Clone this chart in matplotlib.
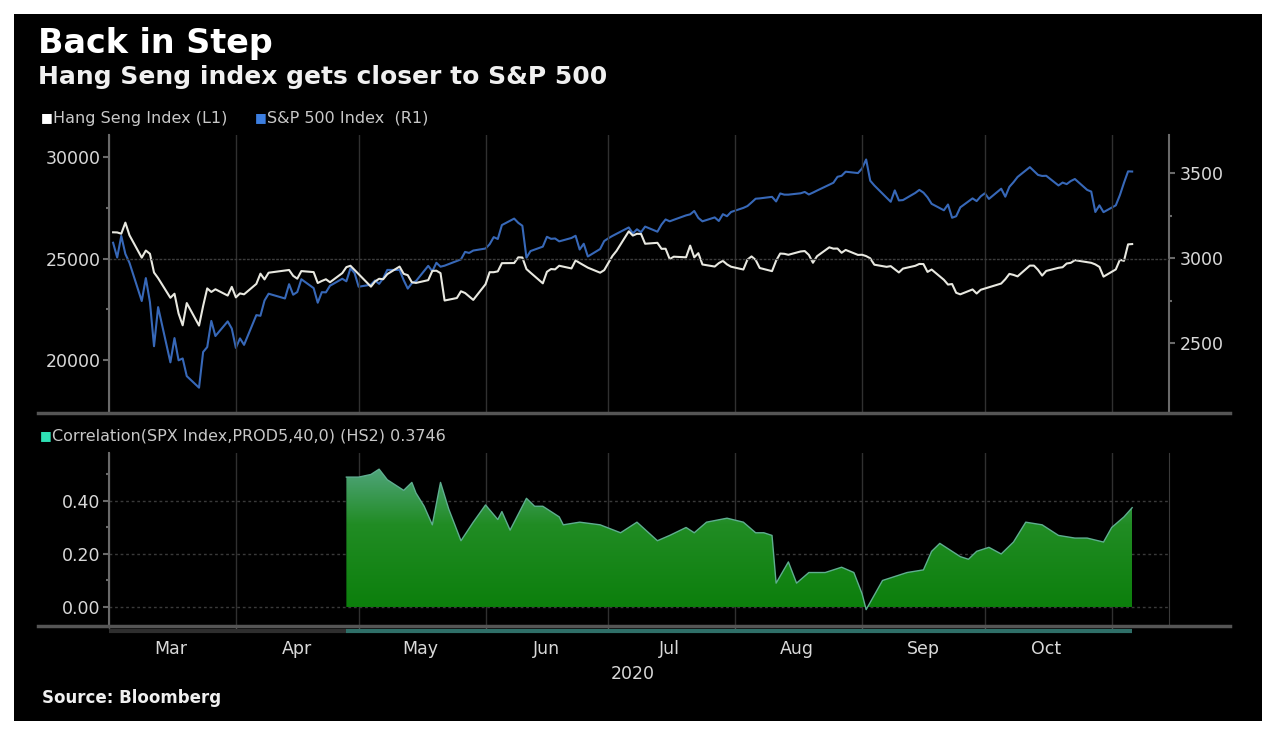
"""Hang Seng vs S&P 500 with rolling correlation, Bloomberg-style dark chart"""

import numpy as np
import pandas as pd
import matplotlib
matplotlib.use('Agg')
import matplotlib.pyplot as plt
import matplotlib.dates as mdates
from matplotlib.patches import Rectangle
from matplotlib.lines import Line2D
from matplotlib.colors import LinearSegmentedColormap

## data
hsi_days = ['03-02','03-03','03-04','03-05','03-06','03-09','03-10','03-11','03-12','03-13',
            '03-16','03-17','03-18','03-19','03-20','03-23','03-24','03-25','03-26','03-27',
            '03-30','03-31','04-01','04-02','04-03','04-06','04-07','04-08','04-09','04-14',
            '04-15','04-16','04-17','04-20','04-21','04-22','04-23','04-24','04-27','04-28',
            '04-29','05-04','05-05','05-06','05-07','05-08','05-11','05-12','05-13','05-14',
            '05-15','05-18','05-19','05-20','05-21','05-22','05-25','05-26','05-27','05-28',
            '05-29','06-01','06-02','06-03','06-04','06-05','06-08','06-09','06-10','06-11',
            '06-12','06-15','06-16','06-17','06-18','06-19','06-22','06-23','06-24','06-26',
            '06-29','06-30','07-02','07-03','07-06','07-07','07-08','07-09','07-10','07-13',
            '07-14','07-15','07-16','07-17','07-20','07-21','07-22','07-23','07-24','07-27',
            '07-28','07-29','07-30','07-31','08-03','08-04','08-05','08-06','08-07','08-10',
            '08-11','08-12','08-13','08-14','08-17','08-18','08-19','08-20','08-21','08-24',
            '08-25','08-26','08-27','08-28','08-31','09-01','09-02','09-03','09-04','09-07',
            '09-08','09-09','09-10','09-11','09-14','09-15','09-16','09-17','09-18','09-21',
            '09-22','09-23','09-24','09-25','09-28','09-29','09-30','10-05','10-06','10-07',
            '10-08','10-09','10-12','10-13','10-14','10-15','10-16','10-19','10-20','10-21',
            '10-22','10-23','10-27','10-28','10-29','10-30','11-02','11-03','11-04','11-05',
            '11-06']
hsi_values = [26291,26284,26222,26767,26146,25040,25392,25232,24309,24033,
              23064,23264,22291,21709,22805,21696,22663,23527,23352,23484,
              23175,23603,23085,23280,23236,23749,24253,23970,24300,24435,
              24145,24006,24380,24330,23793,23893,23977,23831,24280,24575,
              24643,23613,23868,24001,23980,24230,24602,24245,24180,23830,
              23797,23934,24388,24399,24280,22930,23053,23385,23301,23132,
              22961,23732,24325,24325,24366,24770,24776,25057,25049,24480,
              24301,23777,24344,24481,24464,24643,24511,24907,24781,24549,
              24301,24427,25124,25373,26339,26130,26217,26210,25727,25772,
              25477,25481,24971,25089,25058,25635,25057,25263,24705,24603,
              24772,24884,24710,24595,24458,24947,25102,24930,24532,24377,
              24890,25244,25231,25183,25347,25367,25178,24791,25113,25551,
              25486,25491,25282,25422,25177,25184,25120,25008,24695,24589,
              24624,24468,24313,24503,24640,24732,24725,24340,24455,23950,
              23716,23742,23311,23235,23476,23275,23459,23767,23980,24242,
              24193,24119,24650,24649,24440,24158,24387,24542,24570,24754,
              24786,24918,24787,24709,24586,24107,24462,24939,24886,25696,
              25712]

spx_days = ['03-02','03-03','03-04','03-05','03-06','03-09','03-10','03-11','03-12','03-13',
            '03-16','03-17','03-18','03-19','03-20','03-23','03-24','03-25','03-26','03-27',
            '03-30','03-31','04-01','04-02','04-03','04-06','04-07','04-08','04-09','04-13',
            '04-14','04-15','04-16','04-17','04-20','04-21','04-22','04-23','04-24','04-27',
            '04-28','04-29','04-30','05-01','05-04','05-05','05-06','05-07','05-08','05-11',
            '05-12','05-13','05-14','05-15','05-18','05-19','05-20','05-21','05-22','05-26',
            '05-27','05-28','05-29','06-01','06-02','06-03','06-04','06-05','06-08','06-09',
            '06-10','06-11','06-12','06-15','06-16','06-17','06-18','06-19','06-22','06-23',
            '06-24','06-25','06-26','06-29','06-30','07-01','07-02','07-06','07-07','07-08',
            '07-09','07-10','07-13','07-14','07-15','07-16','07-17','07-20','07-21','07-22',
            '07-23','07-24','07-27','07-28','07-29','07-30','07-31','08-03','08-04','08-05',
            '08-06','08-07','08-10','08-11','08-12','08-13','08-14','08-17','08-18','08-19',
            '08-20','08-21','08-24','08-25','08-26','08-27','08-28','08-31','09-01','09-02',
            '09-03','09-04','09-08','09-09','09-10','09-11','09-14','09-15','09-16','09-17',
            '09-18','09-21','09-22','09-23','09-24','09-25','09-28','09-29','09-30','10-01',
            '10-02','10-05','10-06','10-07','10-08','10-09','10-12','10-13','10-14','10-15',
            '10-16','10-19','10-20','10-21','10-22','10-23','10-26','10-27','10-28','10-29',
            '10-30','11-02','11-03','11-04','11-05','11-06']
spx_values = [3090,3003,3130,3024,2972,2747,2882,2741,2481,2711,
              2386,2529,2398,2409,2305,2237,2447,2476,2630,2541,
              2627,2585,2471,2527,2489,2664,2660,2750,2790,2762,
              2846,2784,2800,2875,2823,2737,2799,2798,2837,2878,
              2863,2940,2912,2831,2843,2868,2848,2881,2930,2930,
              2870,2820,2852,2864,2954,2922,2972,2949,2955,2992,
              3036,3030,3044,3056,3081,3123,3112,3194,3232,3207,
              3190,3002,3041,3067,3125,3113,3115,3098,3118,3131,
              3050,3084,3009,3053,3100,3116,3130,3180,3145,3169,
              3152,3185,3155,3197,3227,3216,3225,3251,3257,3277,
              3236,3216,3239,3218,3258,3246,3271,3295,3306,3327,
              3349,3351,3360,3333,3380,3373,3373,3381,3389,3374,
              3385,3397,3431,3443,3478,3484,3508,3500,3527,3580,
              3455,3427,3331,3398,3339,3341,3383,3401,3385,3357,
              3319,3281,3315,3237,3246,3298,3351,3335,3363,3381,
              3348,3408,3361,3419,3446,3477,3535,3512,3489,3483,
              3484,3427,3444,3435,3453,3465,3401,3391,3271,3310,
              3270,3310,3370,3443,3510,3509]

corr_days = ['04-28','05-01','05-04','05-06','05-08','05-12','05-14','05-15','05-17','05-19',
             '05-21','05-23','05-26','05-29','06-01','06-04','06-05','06-07','06-11','06-13',
             '06-15','06-19','06-20','06-24','06-29','07-04','07-08','07-13','07-16','07-20',
             '07-22','07-25','07-30','08-03','08-06','08-08','08-10','08-11','08-14','08-16',
             '08-19','08-23','08-27','08-30','09-01','09-02','09-06','09-12','09-16','09-18',
             '09-20','09-25','09-27','09-29','10-02','10-05','10-08','10-11','10-15','10-19',
             '10-23','10-26','10-30','11-01','11-04','11-06']
corr_values = [0.49,0.49,0.50,0.52,0.48,0.44,0.47,0.43,0.38,0.31,
               0.47,0.37,0.25,0.32,0.385,0.33,0.36,0.29,0.41,0.38,
               0.38,0.34,0.31,0.32,0.31,0.28,0.32,0.25,0.27,0.30,
               0.28,0.32,0.335,0.32,0.28,0.28,0.27,0.09,0.17,0.09,
               0.13,0.13,0.15,0.13,0.05,-0.01,0.10,0.13,0.14,0.21,
               0.24,0.19,0.18,0.21,0.225,0.20,0.245,0.32,0.31,0.27,
               0.26,0.26,0.245,0.30,0.34,0.3746]

hsi_dates = pd.to_datetime(['2020-' + d for d in hsi_days])
spx_dates = pd.to_datetime(['2020-' + d for d in spx_days])
corr_dates = pd.to_datetime(['2020-' + d for d in corr_days])

## layout helpers (pixel -> figure fraction)
W, H = 1272, 735
def fx(x):
    return x / W
def fy(y):
    return 1 - y / H

TXT = '#d9d9d9'
GRID = '#303030'
SPINE = '#6a6a6a'
plt.rcParams['font.family'] = 'DejaVu Sans'

fig = plt.figure(figsize=(W/100, H/100), dpi=100, facecolor='white')
fig.patches.append(Rectangle((fx(14), fy(721)), (1262-14)/W, (721-14)/H,
                             transform=fig.transFigure, facecolor='black', edgecolor='none', zorder=-10))

xmin = pd.Timestamp('2020-03-01')
xmax = pd.Timestamp('2020-11-15')

## top panel
ax1 = fig.add_axes([fx(109), fy(413), (1169-109)/W, (413-135)/H])
ax1b = ax1.twinx()
ax1.set_zorder(ax1b.get_zorder() + 1)
ax1.patch.set_visible(False)
ax1b.patch.set_visible(False)

ax1b.plot(spx_dates, spx_values, color='#3768b8', lw=1.5)
ax1.plot(hsi_dates, hsi_values, color='#e8e8e0', lw=1.5)
ax1.axhline(25000, color='#3c3c3c', lw=1.0, ls=(0, (2, 1)))

ax1.set_xlim(xmin, xmax)
ax1.set_ylim(17389, 31084)
ax1b.set_ylim(2088, 3724)
ax1.set_yticks([20000, 25000, 30000])
ax1.set_yticks([22500, 27500], minor=True)
ax1b.set_yticks([2500, 3000, 3500])
ax1b.set_yticks([2750, 3250], minor=True)

for a in (ax1, ax1b):
    for s in ('top', 'bottom'):
        a.spines[s].set_visible(False)
ax1.spines['right'].set_visible(False)
ax1b.spines['left'].set_visible(False)
ax1.spines['left'].set_color(SPINE)
ax1b.spines['right'].set_color(SPINE)
ax1.spines['left'].set_linewidth(1.5)
ax1b.spines['right'].set_linewidth(1.5)

ax1.tick_params(axis='y', which='major', colors=SPINE, labelcolor=TXT, labelsize=12.5, length=4, width=1.5, pad=2)
ax1.tick_params(axis='y', which='minor', colors=SPINE, length=2, width=1.5)
ax1b.tick_params(axis='y', which='major', colors=SPINE, labelcolor=TXT, labelsize=12.5, length=4, width=1.5, pad=4)
ax1b.tick_params(axis='y', which='minor', colors=SPINE, length=2, width=1.5)

ax1.xaxis.set_major_locator(mdates.MonthLocator())
ax1.tick_params(axis='x', which='both', length=0, labelbottom=False)
ax1.grid(axis='x', color=GRID, lw=1.0)

## bottom panel
ax2 = fig.add_axes([fx(109), fy(625), (1169-109)/W, (625-453)/H])
ax2.patch.set_visible(False)

poly = ax2.fill_between(corr_dates, 0, corr_values, color='none', lw=0)
clip = poly.get_paths()[0]
cmap = LinearSegmentedColormap.from_list('g', [(0.0, '#0c7f0c'), (0.6, '#218c24'), (1.0, '#4fa47a')])
x0n, x1n = mdates.date2num(corr_dates[0]), mdates.date2num(corr_dates[-1])
grad = np.linspace(0, 1, 256).reshape(-1, 1)
img = ax2.imshow(grad, extent=[x0n, x1n, 0, max(corr_values)], origin='lower',
                 aspect='auto', cmap=cmap, zorder=2)
img.set_clip_path(clip, transform=ax2.transData)
ax2.plot(corr_dates, corr_values, color='#5fae90', lw=1.0, zorder=3)
ax2.set_xlim(xmin, xmax)
ax2.set_ylim(-0.068, 0.581)

ax2.set_yticks([0.0, 0.2, 0.4])
ax2.set_yticks([0.1, 0.3, 0.5], minor=True)
ax2.yaxis.set_major_formatter(plt.FuncFormatter(lambda v, p: '%.2f' % v))
ax2.grid(axis='y', which='major', color='#3a3a3a', lw=1.0, ls=(0, (2, 2)))
ax2.grid(axis='x', which='major', color=GRID, lw=1.0)

for s in ('top', 'bottom'):
    ax2.spines[s].set_visible(False)
ax2.spines['left'].set_color(SPINE)
ax2.spines['left'].set_linewidth(1.5)
ax2.spines['right'].set_color('#3a3a3a')

ax2.tick_params(axis='y', which='major', colors=SPINE, labelcolor=TXT, labelsize=12.5, length=4, width=1.5, pad=2)
ax2.tick_params(axis='y', which='minor', colors=SPINE, length=2, width=1.5)
ax2.tick_params(axis='y', right=False)

ax2.xaxis.set_major_locator(mdates.MonthLocator())
ax2.xaxis.set_major_formatter(plt.NullFormatter())
ax2.xaxis.set_minor_locator(mdates.MonthLocator(bymonthday=16))
ax2.xaxis.set_minor_formatter(mdates.DateFormatter('%b'))
ax2.tick_params(axis='x', which='major', colors='#5a5a5a', length=3, width=1)
ax2.tick_params(axis='x', which='minor', length=0, labelcolor=TXT, labelsize=12.5, pad=11)

# data-range strip below the lower panel
ax2.plot([corr_dates[0], corr_dates[-1]], [-0.035, -0.035], transform=ax2.get_xaxis_transform(),
         color='#2f6f68', lw=3, clip_on=False, solid_capstyle='butt')
ax2.plot([xmin, corr_dates[0]], [-0.035, -0.035], transform=ax2.get_xaxis_transform(),
         color='#2e2e2e', lw=3, clip_on=False, solid_capstyle='butt')

## separators
for yy in (413, 626):
    fig.add_artist(Line2D([fx(38), fx(1230)], [fy(yy), fy(yy)], color='#555555', lw=2.5))

## texts
fig.text(fx(38), fy(43), 'Back in Step', color='white', fontsize=24, fontweight='bold', va='center')
fig.text(fx(38), fy(77), 'Hang Seng index gets closer to S&P 500', color='#f0f0f0',
         fontsize=18, fontweight='bold', va='center')

fig.text(fx(41), fy(118), '■', color='white', fontsize=9, va='center')
fig.text(fx(53), fy(118), 'Hang Seng Index (L1)', color='#c8c8c8', fontsize=11.5, va='center')
fig.text(fx(255), fy(118), '■', color='#3c7ee0', fontsize=9, va='center')
fig.text(fx(267), fy(118), 'S&P 500 Index  (R1)', color='#c8c8c8', fontsize=11.5, va='center')

fig.text(fx(40), fy(436), '■', color='#2ee0b4', fontsize=9, va='center')
fig.text(fx(52), fy(436), 'Correlation(SPX Index,PROD5,40,0) (HS2) 0.3746', color='#c8c8c8',
         fontsize=11.5, va='center')

fig.text(fx(633), fy(674), '2020', color=TXT, fontsize=12.5, ha='center', va='center')
fig.text(fx(42), fy(698), 'Source: Bloomberg', color='#f0f0f0', fontsize=12, fontweight='bold', va='center')

fig.savefig('out.png', dpi=100, facecolor='white')
